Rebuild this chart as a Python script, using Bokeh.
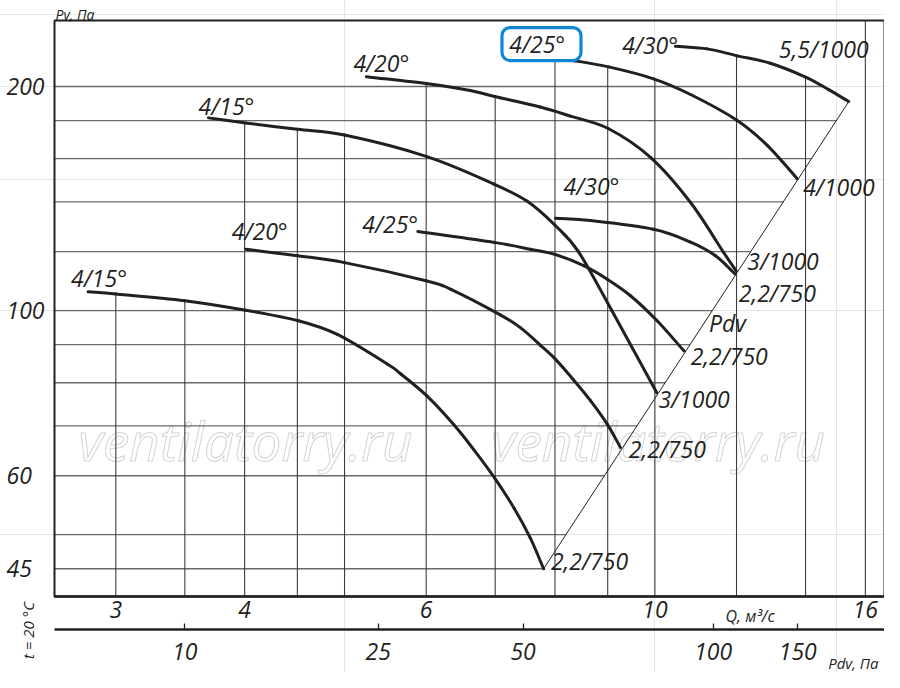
import numpy as np
from bokeh.plotting import figure
from bokeh.models import (Range1d, LogAxis, FixedTicker, Label, BoxAnnotation,
                          CustomJSTickFormatter, PrintfTickFormatter)
from bokeh.embed import file_html
from bokeh.resources import INLINE

# ------------------------------------------------------------------ data
q_ticks = [3, 4, 6, 10, 16]                      # Q, m3/s
pv_ticks = [45, 60, 100, 200]                    # Pv, Pa
q_grid = [3, 3.5, 4, 4.5, 5, 6, 7, 8, 9, 10, 12, 14, 16]
pv_grid = [45, 50, 60, 70, 80, 90, 100, 120, 140, 160, 180, 200]
pdv_labels = ["10", "25", "50", "100", "150"]    # Pdv, Pa
pdv_at_q = [3.5, 5.39, 7.45, 11.39, 13.76]       # where they sit on the Q scale

angle_labels = ["4/15°", "4/20°", "4/25°", "4/30°", "4/15°", "4/20°", "4/25°", "4/30°"]
motor_labels = ["2,2/750", "2,2/750", "2,2/750", "2,2/750",
                "3/1000", "3/1000", "4/1000", "5,5/1000"]

q_15_750 = [2.82, 3.0, 3.5, 4.01, 4.51, 4.92, 5.5, 5.67, 6.01, 6.38, 6.67, 6.99, 7.30, 7.57, 7.80]
pv_15_750 = [106.0, 105.3, 103.1, 100.1, 96.9, 92.9, 84.8, 82.2, 76.8, 70.3, 65.1, 59.6, 54.3, 49.5, 45.0]
q_20_750 = [4.01, 4.50, 5.00, 6.01, 6.34, 7.08, 7.41, 7.74, 8.01, 8.34, 8.66, 8.99, 9.26]
pv_20_750 = [120.9, 118.5, 116.0, 109.6, 106.8, 98.7, 94.8, 89.9, 86.0, 80.7, 75.7, 70.4, 65.5]
q_25_750 = [5.89, 6.98, 7.57, 8.01, 8.53, 8.99, 9.47, 10.05, 10.67]
pv_25_750 = [127.7, 123.5, 120.9, 118.9, 114.9, 110.2, 104.7, 96.9, 88.3]
q_30_750 = [8.01, 8.66, 9.97, 10.83, 11.45, 11.96]
pv_30_750 = [133.1, 132.1, 128.6, 123.6, 118.5, 112.0]
q_15_1000 = [3.69, 4.01, 4.50, 5.00, 6.01, 6.98, 7.52, 8.01, 8.43, 9.08, 10.04]
pv_15_1000 = [181.5, 178.7, 175.2, 172.1, 161.0, 147.9, 140.2, 130.0, 120.0, 100.1, 77.6]
q_20_1000 = [5.25, 6.02, 6.62, 6.99, 7.74, 8.28, 9.02, 9.92, 10.83, 11.66, 11.99]
pv_20_1000 = [206.2, 201.7, 197.5, 193.9, 187.7, 182.5, 175.5, 160.3, 139.7, 119.7, 113.1]
q_25_1000 = [8.0, 8.32, 9.02, 9.97, 10.83, 12.0, 12.86, 13.74]
pv_25_1000 = [218.4, 216.8, 212.5, 204.8, 195.1, 180.3, 166.6, 150.4]
q_30_1000 = [10.47, 11.24, 12.02, 12.94, 14.0, 14.74, 15.42]
pv_30_1000 = [226.5, 224.7, 219.9, 214.9, 205.9, 198.1, 190.9]

pdv_line_q = [7.80, 15.42]
pdv_line_pv = [45.0, 190.9]

curves = [(q_15_750, pv_15_750), (q_20_750, pv_20_750), (q_25_750, pv_25_750),
          (q_30_750, pv_30_750), (q_15_1000, pv_15_1000), (q_20_1000, pv_20_1000),
          (q_25_1000, pv_25_1000), (q_30_1000, pv_30_1000)]

# ------------------------------------------------------------------ layout
# chart box (data limits of the diagram)
X_MIN, X_MAX = 2.616, 16.70
Y_MIN, Y_MAX = 41.3, 245.3
FRAME_W, FRAME_H = 830, 576
LX = np.log10(X_MAX / X_MIN) / FRAME_W
LY = np.log10(Y_MAX / Y_MIN) / FRAME_H
LEFT, TOP, BOTTOM = 54, 20, 76          # room round the chart box, px
W, H = LEFT + FRAME_W, TOP + FRAME_H + BOTTOM

INK = "#231f20"
FONT = "Open Sans"


def shift(q, pv, dx, dy):
    """move a data point by screen pixels (dx right, dy up)"""
    return q * 10 ** (dx * LX), pv * 10 ** (dy * LY)


def frame_px(xf, yf):
    """pixel offset from the chart box's bottom-left corner -> data"""
    return shift(X_MIN, Y_MIN, xf, yf)


XR0, _ = frame_px(-LEFT, 0)
_, YR0 = frame_px(0, -BOTTOM)
_, YR1 = frame_px(0, FRAME_H + TOP)

p = figure(width=W, height=H, x_axis_type="log", y_axis_type="log",
           x_range=Range1d(XR0, X_MAX), y_range=Range1d(YR0, YR1),
           x_axis_location=None, y_axis_location=None, title=None,
           toolbar_location=None, output_backend="svg",
           min_border_left=0, min_border_right=0, min_border_top=0,
           min_border_bottom=0)
p.background_fill_color = "white"
p.border_fill_color = "white"
p.outline_line_color = None


def add_text(x, y, text, size="23px", align="left", baseline="middle",
             angle=0.0, style="italic", color=INK, level="annotation"):
    lab = Label(x=x, y=y, text=text, text_font=FONT, text_font_size=size,
                text_font_style=style, text_color=color, text_align=align,
                text_baseline=baseline, angle=angle, level=level)
    p.add_layout(lab)
    return lab


# watermark
has_outline = "text_outline_color" in Label.properties()
for xf in (191, 603.5):
    x, y = frame_px(xf, 156)
    kw = dict(x=x, y=y, text="ventilatorry.ru", text_font=FONT,
              text_font_size="53px", text_font_style="italic",
              text_align="center", text_baseline="alphabetic", level="underlay")
    if has_outline:
        kw.update(text_color="white", text_outline_color="#d4d4d4")
    else:
        kw.update(text_color="#ececec")
    p.add_layout(Label(**kw))


# ------------------------------------------------------------------ grid
def value_at(q, cq, cpv):
    if cq[0] <= q <= cq[-1]:
        return 10 ** np.interp(np.log10(q), np.log10(cq), np.log10(cpv))
    return None


def q_at(v, cq, cpv, increasing=False):
    lo, hi = min(cpv), max(cpv)
    if lo <= v <= hi:
        lq, lp = np.log10(cq), np.log10(cpv)
        if not increasing:
            lq, lp = lq[::-1], lp[::-1]
        return 10 ** np.interp(np.log10(v), lp, lq)
    return None


h_xs, h_ys = [], []
for v in pv_grid:
    ends = [q_at(v, cq, cpv) for cq, cpv in curves]
    ends.append(q_at(v, pdv_line_q, pdv_line_pv, increasing=True))
    ends = [e for e in ends if e is not None]
    h_xs.append([X_MIN, max(ends) if ends else X_MAX])
    h_ys.append([v, v])

v_xs, v_ys = [], []
for q in q_grid:
    tops = [value_at(q, cq, cpv) for cq, cpv in curves]
    tops.append(value_at(q, pdv_line_q, pdv_line_pv))
    tops = [t for t in tops if t is not None]
    v_xs.append([q, q])
    v_ys.append([Y_MIN, max(tops) if tops else Y_MAX])

p.multi_line(h_xs, h_ys, line_color="#6a6a6a", line_width=1.3)
p.multi_line(v_xs, v_ys, line_color="#3c3c3c", line_width=1.1)

# chart box
p.quad(left=[X_MIN], right=[X_MAX], bottom=[Y_MIN], top=[Y_MAX],
       fill_color=None, line_color=INK, line_width=2)

# dynamic-pressure line
p.line(pdv_line_q, pdv_line_pv, line_color=INK, line_width=1)


# fan curves: smooth (Catmull-Rom) path through the read points
def bezier_parts(cq, cpv):
    lx, ly = np.log10(cq), np.log10(cpv)
    n = len(lx)
    mx, my = np.zeros(n), np.zeros(n)
    mx[0], my[0] = lx[1] - lx[0], ly[1] - ly[0]
    mx[-1], my[-1] = lx[-1] - lx[-2], ly[-1] - ly[-2]
    mx[1:-1] = (lx[2:] - lx[:-2]) / 2
    my[1:-1] = (ly[2:] - ly[:-2]) / 2
    e = lambda a: 10 ** a
    return dict(x0=e(lx[:-1]), y0=e(ly[:-1]), x1=e(lx[1:]), y1=e(ly[1:]),
                cx0=e(lx[:-1] + mx[:-1] / 3), cy0=e(ly[:-1] + my[:-1] / 3),
                cx1=e(lx[1:] - mx[1:] / 3), cy1=e(ly[1:] - my[1:] / 3))


for cq, cpv in curves:
    p.bezier(**bezier_parts(cq, cpv), line_color=INK, line_width=3,
             line_cap="round")

# ------------------------------------------------------------------ curve labels
start_off = [(-17, 14), (-14, 18), (-55.6, 8), (8, 32),
             (-10, 12), (-13, 13.5), (-45.7, 14.2), (-53.3, 1.7)]
end_off = [(7.3, 7.3), (8.3, -1.6), (6.7, -5), (3.8, -18.7),
           (1.7, -6.5), (11.2, 10), (6, -8.4), (-70, 52.2)]

for i, (cq, cpv) in enumerate(curves):
    if i == 6:
        # highlighted label box
        bl, bb = shift(cq[0], cpv[0], -53, -2.5)
        br, bt = shift(cq[0], cpv[0], 26, 30.5)
        p.add_layout(BoxAnnotation(left=bl, right=br, bottom=bb, top=bt,
                                   fill_color="white", fill_alpha=1.0,
                                   line_color="#0f87d8", line_alpha=1.0,
                                   line_width=3.2, border_radius=8))
    sx, sy = shift(cq[0], cpv[0], *start_off[i])
    add_text(sx, sy, angle_labels[i])
    ex, ey = shift(cq[-1], cpv[-1], *end_off[i])
    add_text(ex, ey, motor_labels[i])

# "Pdv" on the dynamic-pressure line
mq = 10 ** np.mean(np.log10(pdv_line_q))
mpv = 10 ** np.mean(np.log10(pdv_line_pv))
px_, py_ = shift(mq, mpv, 12.8, 11.8)
add_text(px_, py_, "Pdv")

# ------------------------------------------------------------------ axes
q_axis = LogAxis(ticker=FixedTicker(ticks=q_ticks),
                 formatter=PrintfTickFormatter(format="%d"),
                 fixed_location=Y_MIN, bounds=(X_MIN, X_MAX),
                 major_tick_in=0, major_tick_out=0,
                 minor_tick_in=0, minor_tick_out=0,
                 axis_line_width=2.5, axis_line_color=INK,
                 major_label_standoff=4,
                 major_label_text_font=FONT, major_label_text_font_style="italic",
                 major_label_text_font_size="23px", major_label_text_color=INK)
p.add_layout(q_axis, "below")

_, pdv_axis_y = frame_px(0, -32.7)
pdv_axis = LogAxis(ticker=FixedTicker(ticks=pdv_at_q),
                   formatter=CustomJSTickFormatter(
                       args=dict(qs=pdv_at_q, labels=pdv_labels),
                       code="""
let best = 0, d = Infinity;
for (let i = 0; i < qs.length; i++) {
  const e = Math.abs(Math.log(tick) - Math.log(qs[i]));
  if (e < d) { d = e; best = i; }
}
return labels[best];
"""),
                   fixed_location=pdv_axis_y, bounds=(X_MIN, X_MAX),
                   major_tick_in=6, major_tick_out=0,
                   minor_tick_in=0, minor_tick_out=0,
                   major_tick_line_color=INK, major_tick_line_width=1.3,
                   axis_line_width=2.5, axis_line_color=INK,
                   major_label_standoff=14,
                   major_label_text_font=FONT, major_label_text_font_style="italic",
                   major_label_text_font_size="23px", major_label_text_color=INK)
p.add_layout(pdv_axis, "below")

# Pv tick labels (left aligned, like the original)
x_tick_lab, _ = frame_px(-48, 0)
for v in pv_ticks:
    add_text(x_tick_lab, v, str(v))

# axis titles and notes
x, y = frame_px(1, FRAME_H + 6)
add_text(x, y, "Pv, Па", size="14px", baseline="alphabetic")
x, y = frame_px(671, -19)
add_text(x, y, "Q, м³/с", size="16px", baseline="alphabetic")
x, y = frame_px(824, -66)
add_text(x, y, "Pdv, Па", size="15px", align="right", baseline="alphabetic")
x, y = frame_px(-27, -34)
add_text(x, y, "t = 20 °C", size="15px", align="center", baseline="middle",
         angle=np.pi / 2)

open("out.html", "w").write(file_html(p, INLINE))
